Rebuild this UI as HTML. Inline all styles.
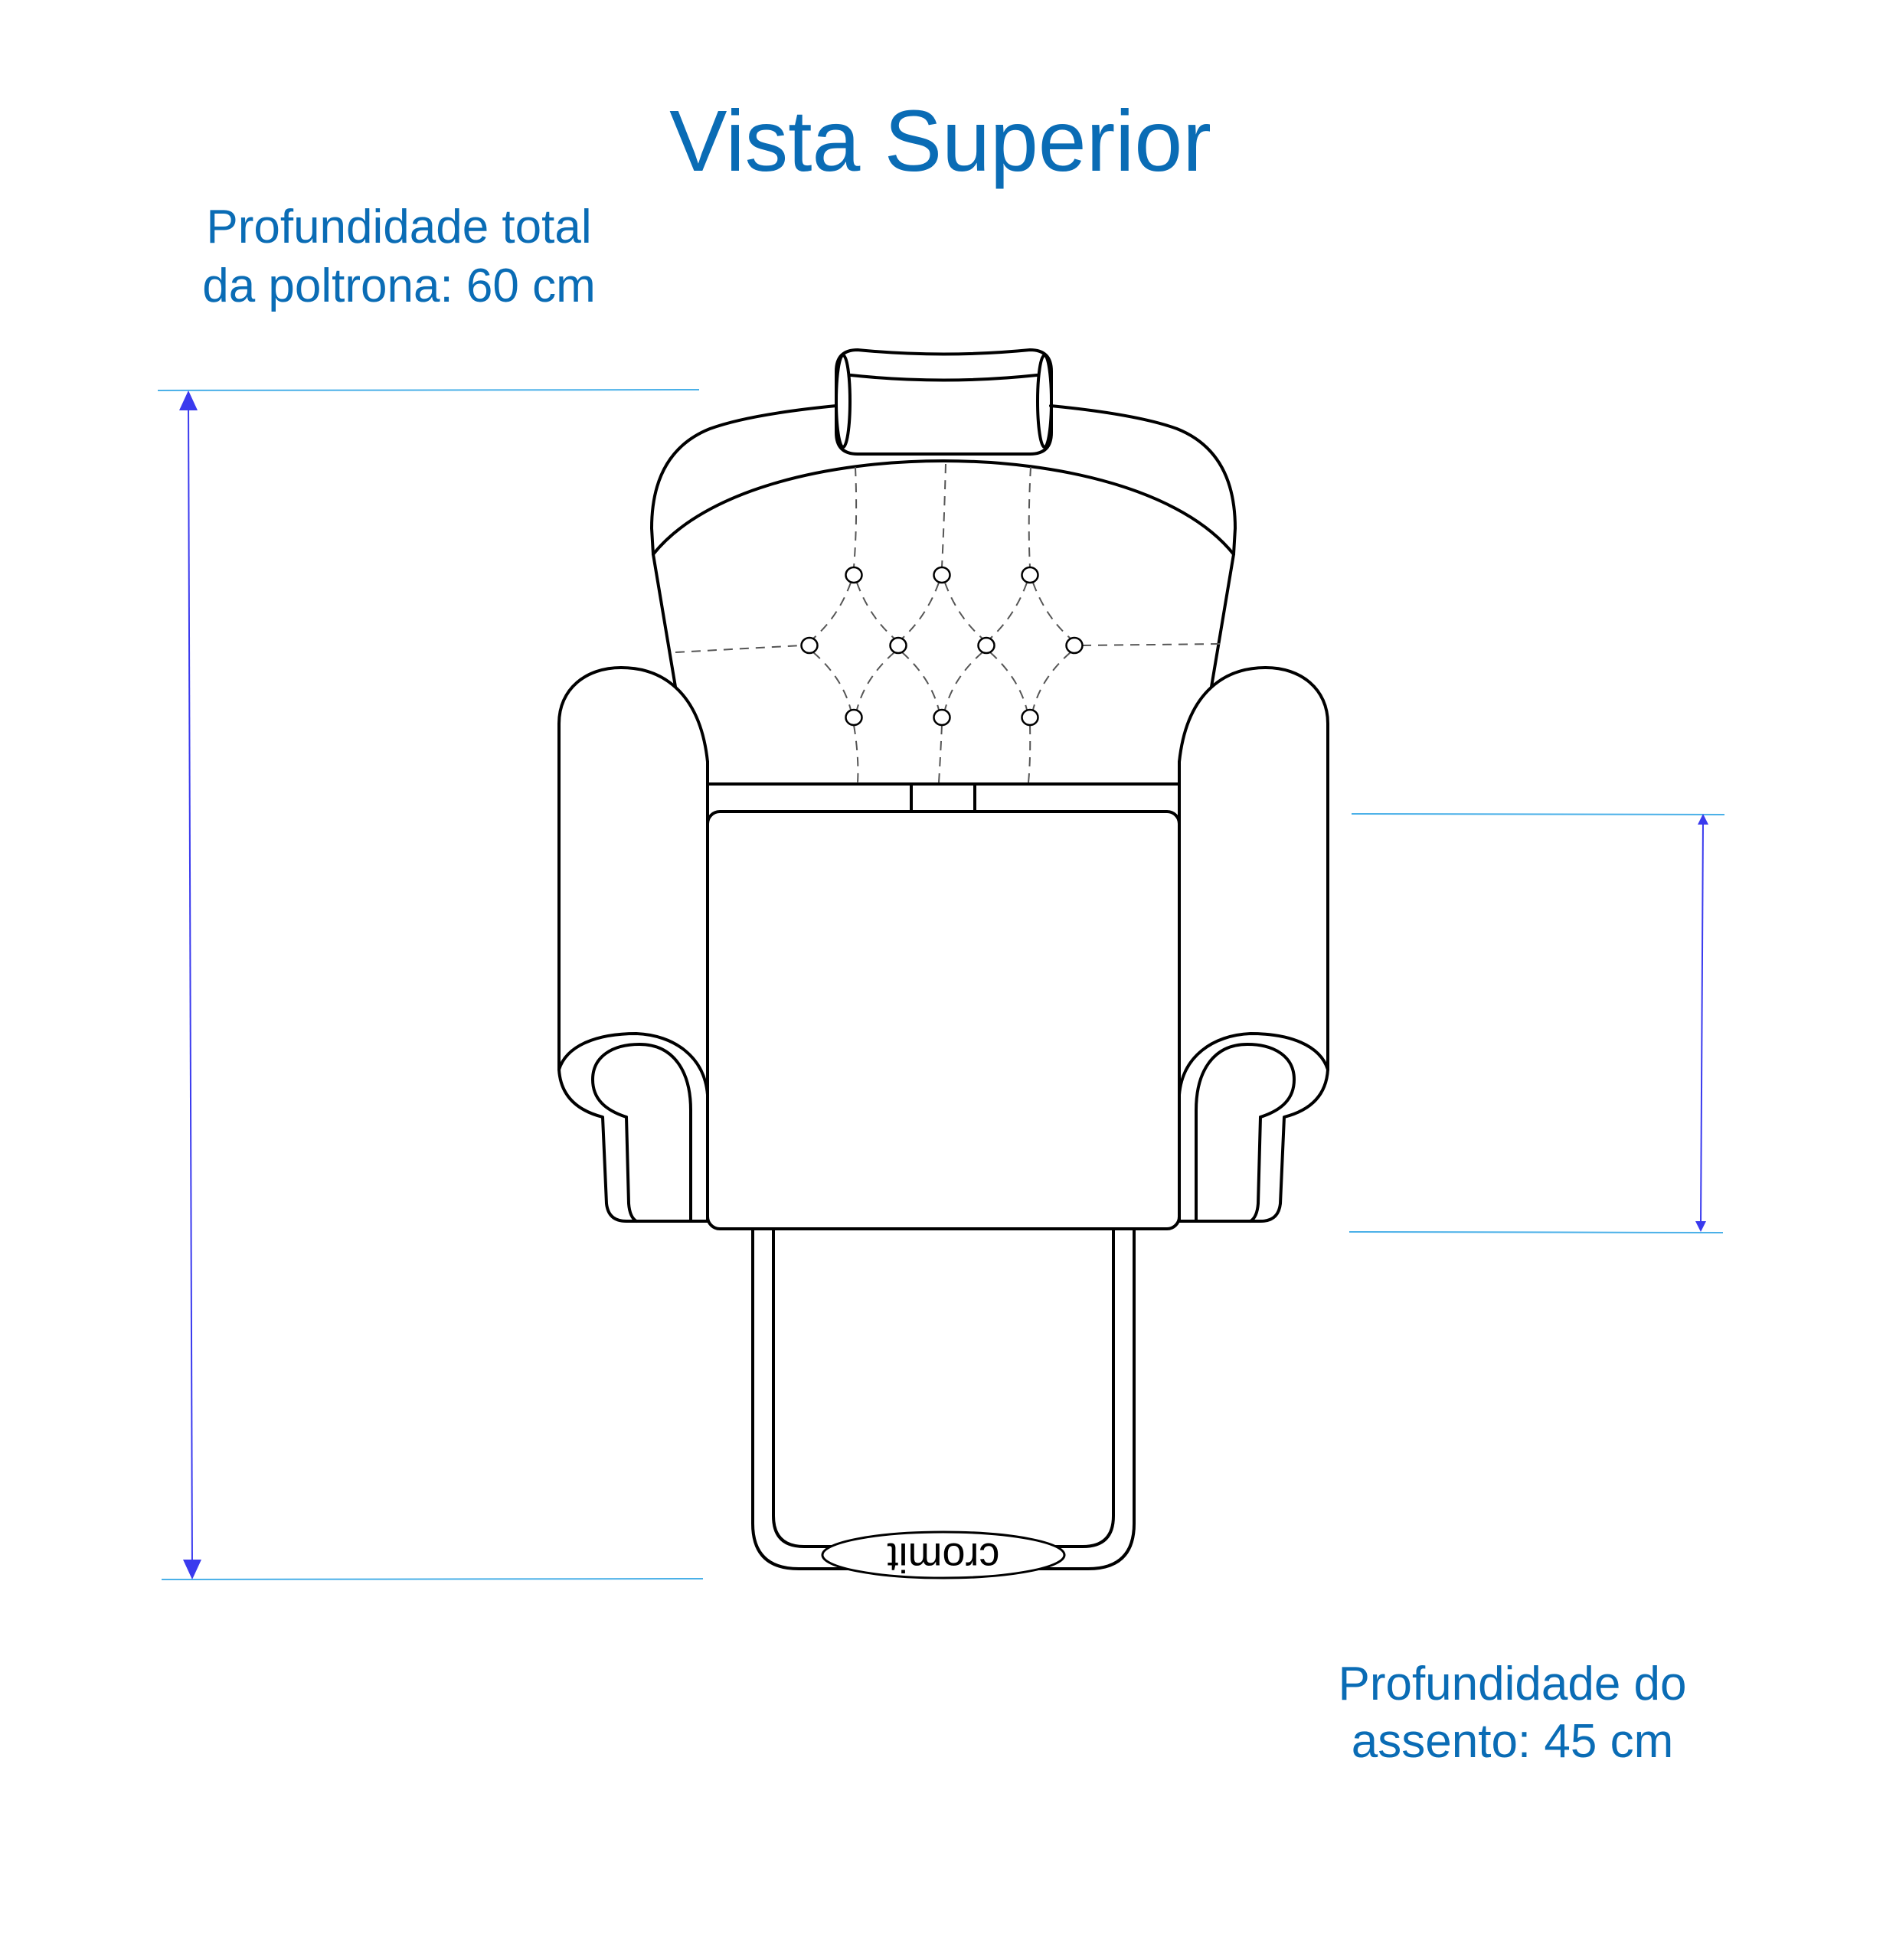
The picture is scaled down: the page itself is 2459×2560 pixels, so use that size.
<!DOCTYPE html>
<html><head><meta charset="utf-8"><style>
html,body{margin:0;padding:0;background:#fff;}
svg{display:block;}
</style></head><body>
<svg width="2459" height="2560" viewBox="0 0 2459 2560" xmlns="http://www.w3.org/2000/svg">
<rect width="2459" height="2560" fill="#fff"/>
<g font-family="Liberation Sans, sans-serif" fill="#0a6cb5" text-anchor="middle">
<text x="1228" y="223" font-size="113">Vista Superior</text>
<text x="521" y="317" font-size="62">Profundidade total</text>
<text x="521" y="394" font-size="62">da poltrona: 60 cm</text>
<text x="1975" y="2220" font-size="62">Profundidade do</text>
<text x="1975" y="2295" font-size="62">assento: 45 cm</text>
</g>
<g stroke="#4ab0e8" stroke-width="2">
<line x1="206" y1="510" x2="913" y2="509"/>
<line x1="211" y1="2063" x2="918" y2="2062"/>
<line x1="1765" y1="1063" x2="2252" y2="1064"/>
<line x1="1762" y1="1609" x2="2250" y2="1610"/>
</g>
<g stroke="#3a3aee" stroke-width="2" fill="#3a3aee">
<line x1="246" y1="520" x2="251" y2="2050"/>
<polygon points="246,510 234,536 258,536" stroke="none"/>
<polygon points="251,2063 239,2037 263,2037" stroke="none"/>
<line x1="2224" y1="1070" x2="2221" y2="1602"/>
<polygon points="2224,1063 2217,1077 2231,1077" stroke="none"/>
<polygon points="2221,1609 2214,1595 2228,1595" stroke="none"/>
</g>
<g fill="none" stroke="#000" stroke-width="4" stroke-linejoin="round" stroke-linecap="round">
<path d="M1120 457 Q1232 468 1345 457 Q1373 457 1373 485 L1373 565 Q1373 593 1345 593 L1120 593 Q1092 593 1092 565 L1092 485 Q1092 457 1120 457 Z" fill="#fff"/>
<ellipse cx="1101" cy="524" rx="9" ry="60"/>
<ellipse cx="1364" cy="524" rx="9" ry="60"/>
<path d="M1111 490 Q1232 503 1354 490"/>
<g id="half">
<path d="M1092 530 C1010 538 960 548 927 560 C872 582 851 630 851 690 L853 724 L882 897"/>
<path d="M853 724 C920 640 1080 602 1232 602"/>
<path d="M924 995 C915 910 870 872 811 872 C765 872 730 900 730 945 L730 1397" fill="#fff"/>
<path d="M730 1397 C740 1365 780 1350 831 1350 C880 1352 920 1380 924 1430"/>
<path d="M730 1397 C732 1430 752 1450 787 1459 L792 1572 C794 1590 805 1595 818 1595 L924 1595"/>
<path d="M818 1459 C790 1450 774 1435 774 1410 C774 1380 800 1364 835 1364 C880 1364 902 1400 902 1450 L902 1595"/>
<path d="M818 1459 L821 1572 C822 1585 826 1592 831 1595"/>
<line x1="924" y1="995" x2="924" y2="1595"/>
</g>
<use href="#half" transform="translate(2464,0) scale(-1,1)"/>
<line x1="924" y1="1024" x2="1540" y2="1024"/>
<line x1="1190" y1="1024" x2="1190" y2="1060"/>
<line x1="1273" y1="1024" x2="1273" y2="1060"/>
<path d="M983 1600 L983 1990 Q983 2049 1043 2049 L1421 2049 Q1481 2049 1481 1990 L1481 1600"/>
<path d="M1010 1600 L1010 1980 Q1010 2020 1050 2020 L1414 2020 Q1454 2020 1454 1980 L1454 1600"/>
<rect x="924" y="1060" width="616" height="545" rx="16" fill="#fff"/>
<ellipse cx="1232" cy="2031" rx="158" ry="30" fill="#fff" stroke-width="3"/>
</g>
<text x="0" y="0" font-family="Liberation Sans, sans-serif" font-size="54" text-anchor="middle" transform="translate(1232,2016) rotate(180)">cromit</text>
<g fill="none" stroke="#555" stroke-width="2" stroke-dasharray="12 9">
<path d="M1117 610 Q1120 680 1115 741"/>
<path d="M1235 606 Q1233 680 1230 741"/>
<path d="M1346 610 Q1342 680 1345 741"/>
<path d="M1115 947 Q1122 990 1120 1022"/>
<path d="M1230 947 Q1228 990 1226 1022"/>
<path d="M1345 947 Q1346 990 1343 1022"/>
<path d="M882 852 L1047 843"/>
<path d="M1413 843 L1594 841"/>
<path d="M1111 761 Q1095 805 1062 834"/>
<path d="M1119 761 Q1135 805 1168 834"/>
<path d="M1226 761 Q1210 805 1178 834"/>
<path d="M1234 761 Q1250 805 1283 834"/>
<path d="M1341 761 Q1325 805 1293 834"/>
<path d="M1349 761 Q1365 805 1398 834"/>
<path d="M1062 852 Q1100 885 1111 927"/>
<path d="M1168 852 Q1130 885 1119 927"/>
<path d="M1178 852 Q1215 885 1226 927"/>
<path d="M1283 852 Q1245 885 1234 927"/>
<path d="M1293 852 Q1330 885 1341 927"/>
<path d="M1398 852 Q1360 885 1349 927"/>
</g>
<g fill="#fff" stroke="#000" stroke-width="2.5">
<ellipse cx="1115" cy="751" rx="10.5" ry="10"/>
<ellipse cx="1230" cy="751" rx="10.5" ry="10"/>
<ellipse cx="1345" cy="751" rx="10.5" ry="10"/>
<ellipse cx="1057" cy="843" rx="10.5" ry="10"/>
<ellipse cx="1173" cy="843" rx="10.5" ry="10"/>
<ellipse cx="1288" cy="843" rx="10.5" ry="10"/>
<ellipse cx="1403" cy="843" rx="10.5" ry="10"/>
<ellipse cx="1115" cy="937" rx="10.5" ry="10"/>
<ellipse cx="1230" cy="937" rx="10.5" ry="10"/>
<ellipse cx="1345" cy="937" rx="10.5" ry="10"/>
</g>
</svg>
</body></html>
